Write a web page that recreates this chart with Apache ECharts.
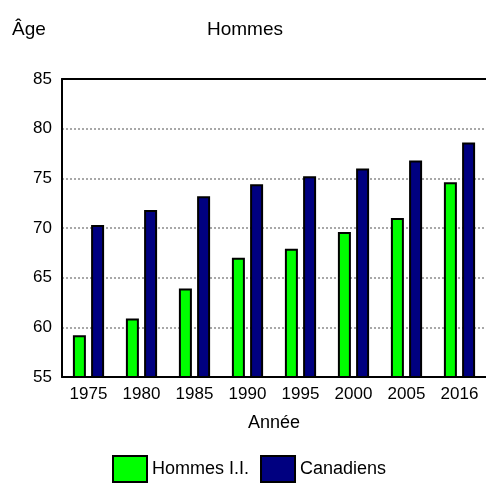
<!DOCTYPE html>
<html>
<head>
<meta charset="utf-8">
<script src="https://cdn.jsdelivr.net/npm/echarts@6/dist/echarts.min.js"></script>
<style>
  html, body { margin: 0; padding: 0; background: #fff; }
  #chart { width: 486px; height: 502px; }
</style>
</head>
<body>
<div id="chart"></div>
<script>
// data
var years = ["1975", "1980", "1985", "1990", "1995", "2000", "2005", "2016"];
var hommesII = [59.2, 60.9, 63.9, 67.0, 67.9, 69.6, 71.0, 74.6];
var canadiens = [70.3, 71.8, 73.2, 74.4, 75.2, 76.0, 76.8, 78.6];

var font = "'Liberation Sans', Arial, sans-serif";
var myChart = echarts.init(document.getElementById("chart"));

var option = {
  animation: false,
  textStyle: { fontFamily: font, color: "#000" },
  title: [
    {
      text: "Hommes",
      left: 207,
      top: 20,
      padding: 0,
      textStyle: { fontFamily: font, fontSize: 19, fontWeight: "normal", color: "#000" },
    },
    {
      text: "Âge",
      left: 12,
      top: 20,
      padding: 0,
      textStyle: { fontFamily: font, fontSize: 19, fontWeight: "normal", color: "#000" },
    },
  ],
  legend: {
    left: 112,
    top: 455,
    padding: 0,
    itemWidth: 34,
    itemHeight: 26,
    itemGap: 11,
    icon: "rect",
    textStyle: { fontFamily: font, fontSize: 18, color: "#000" },
    data: ["Hommes I.I.", "Canadiens"],
  },
  grid: { left: 62, right: 0, top: 79, bottom: 125, containLabel: false },
  xAxis: [
    {
      type: "category",
      data: years,
      name: "Année",
      nameLocation: "middle",
      nameGap: 37,
      nameTextStyle: { fontFamily: font, fontSize: 18, color: "#000" },
      axisLine: { lineStyle: { color: "#000", width: 2 } },
      axisTick: { alignWithLabel: true, length: 5, lineStyle: { color: "#888", width: 2 } },
      axisLabel: { fontFamily: font, fontSize: 17, color: "#000", margin: 9 },
    },
    {
      type: "category",
      position: "top",
      data: years,
      axisLine: { lineStyle: { color: "#000", width: 2 } },
      axisTick: { show: false },
      axisLabel: { show: false },
    },
  ],
  yAxis: {
    type: "value",
    min: 55,
    max: 85,
    interval: 5,
    axisLine: { show: true, lineStyle: { color: "#000", width: 2 } },
    axisTick: { show: false },
    axisLabel: { fontFamily: font, fontSize: 17, color: "#000", margin: 10 },
    splitLine: { lineStyle: { color: "#a8a8a8", width: 2, type: [2, 2] } },
  },
  series: [
    {
      name: "Hommes I.I.",
      type: "bar",
      data: hommesII,
      barWidth: 13,
      barGap: "40%",
      itemStyle: { color: "#00ff00", borderColor: "#000", borderWidth: 2 },
    },
    {
      name: "Canadiens",
      type: "bar",
      data: canadiens,
      barWidth: 13,
      itemStyle: { color: "#000080", borderColor: "#000", borderWidth: 2 },
    },
  ],
};

option && myChart.setOption(option);
</script>
</body>
</html>
